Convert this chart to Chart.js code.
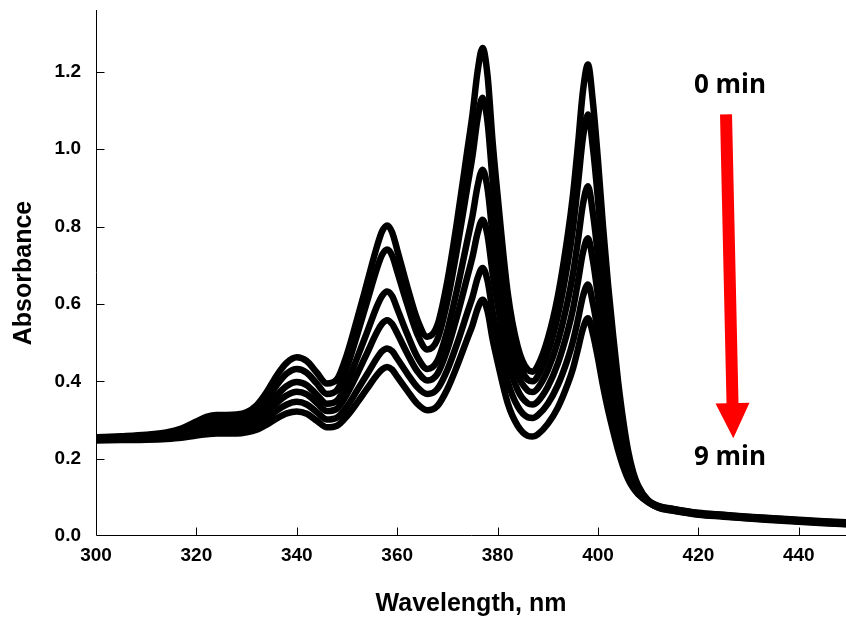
<!DOCTYPE html>
<html>
<head>
<meta charset="utf-8">
<script src="https://cdn.jsdelivr.net/npm/chart.js@4/dist/chart.umd.min.js"></script>
<style>
html,body{margin:0;padding:0;background:#fff;overflow:hidden;}
#wrap{width:846px;height:619px;position:relative;}
</style>
</head>
<body>
<div id="wrap"><canvas id="c" width="846" height="619"></canvas></div>
<script>
// ---------- data ----------
const wavelengths = [300,305,310,314,317,320,322,324,326,328,330,332,334,336,338,340,342,344,346,348,350,352,354,356,357,358,359,360,362,364,366,368,370,372,374,375,376,377,378,379,380,382,384,386,387,388,390,392,394,395,396,397,398,399,400,401,402,403,404,405,406,407,408,410,412,415,420,425,430,435,440,445,450];

const abs0min = [0.255,0.258,0.262,0.268,0.278,0.296,0.308,0.313,0.313,0.314,0.32,0.338,0.372,0.415,0.448,0.462,0.452,0.422,0.394,0.405,0.47,0.56,0.655,0.75,0.788,0.803,0.785,0.74,0.645,0.56,0.515,0.545,0.66,0.82,1.0,1.09,1.20,1.262,1.19,1.02,0.88,0.63,0.49,0.43,0.425,0.44,0.51,0.62,0.78,0.88,1.01,1.15,1.219,1.12,0.97,0.80,0.65,0.52,0.40,0.30,0.22,0.165,0.13,0.092,0.078,0.07,0.06,0.055,0.05,0.046,0.042,0.038,0.035];
const absStep1 = [0.253,0.255,0.259,0.264,0.272,0.286,0.296,0.300,0.300,0.301,0.306,0.322,0.352,0.39,0.42,0.432,0.422,0.394,0.367,0.377,0.437,0.519,0.606,0.693,0.727,0.741,0.725,0.684,0.599,0.522,0.482,0.508,0.608,0.748,0.905,0.983,1.079,1.133,1.07,0.921,0.799,0.58,0.457,0.404,0.40,0.413,0.474,0.57,0.708,0.795,0.909,1.03,1.09,1.002,0.869,0.719,0.587,0.471,0.365,0.276,0.205,0.157,0.124,0.091,0.077,0.069,0.059,0.054,0.049,0.045,0.041,0.037,0.034];
const absStep2 = [0.252,0.254,0.257,0.261,0.267,0.279,0.287,0.29,0.29,0.291,0.295,0.308,0.333,0.364,0.388,0.398,0.39,0.365,0.342,0.35,0.396,0.46,0.527,0.595,0.621,0.632,0.62,0.588,0.522,0.463,0.432,0.453,0.532,0.642,0.766,0.828,0.904,0.947,0.898,0.781,0.685,0.513,0.417,0.376,0.372,0.382,0.429,0.503,0.61,0.677,0.764,0.858,0.904,0.833,0.724,0.602,0.495,0.401,0.314,0.242,0.185,0.145,0.118,0.09,0.076,0.068,0.058,0.053,0.048,0.044,0.04,0.036,0.033];
const absStep3 = [0.250,0.252,0.254,0.257,0.263,0.273,0.279,0.282,0.282,0.283,0.286,0.297,0.318,0.344,0.364,0.373,0.366,0.344,0.323,0.329,0.367,0.418,0.473,0.528,0.549,0.558,0.548,0.524,0.472,0.426,0.402,0.419,0.483,0.572,0.672,0.722,0.783,0.818,0.777,0.68,0.6,0.457,0.377,0.343,0.34,0.348,0.386,0.446,0.532,0.586,0.657,0.733,0.77,0.711,0.62,0.518,0.428,0.35,0.278,0.218,0.17,0.137,0.114,0.089,0.075,0.067,0.057,0.052,0.047,0.043,0.039,0.035,0.032];
const absStep4 = [0.249,0.250,0.252,0.254,0.259,0.266,0.271,0.273,0.273,0.274,0.276,0.285,0.302,0.324,0.34,0.347,0.34,0.32,0.301,0.306,0.335,0.376,0.418,0.461,0.478,0.485,0.478,0.459,0.42,0.385,0.367,0.38,0.43,0.5,0.579,0.618,0.666,0.693,0.66,0.581,0.516,0.4,0.335,0.307,0.305,0.312,0.342,0.39,0.459,0.503,0.559,0.62,0.65,0.601,0.527,0.443,0.369,0.305,0.245,0.196,0.157,0.129,0.11,0.088,0.074,0.066,0.056,0.051,0.046,0.042,0.038,0.034,0.031];
const abs9min = [0.247,0.248,0.249,0.251,0.254,0.260,0.263,0.265,0.265,0.265,0.268,0.275,0.288,0.304,0.317,0.322,0.316,0.298,0.281,0.285,0.31,0.344,0.381,0.417,0.431,0.437,0.43,0.412,0.376,0.342,0.325,0.336,0.38,0.442,0.511,0.545,0.587,0.611,0.581,0.509,0.45,0.344,0.285,0.259,0.257,0.263,0.29,0.332,0.394,0.432,0.483,0.536,0.563,0.522,0.459,0.388,0.326,0.272,0.222,0.18,0.147,0.124,0.108,0.087,0.073,0.065,0.055,0.05,0.045,0.041,0.037,0.033,0.03];

const seriesNames = ['0 min','spectrum 2','spectrum 3','spectrum 4','spectrum 5','9 min'];
const seriesValues = [abs0min, absStep1, absStep2, absStep3, absStep4, abs9min];

const xTickValues = [300,320,340,360,380,400,420,440];
const yTickValues = [0,0.2,0.4,0.6,0.8,1.0,1.2];
const xRange = [300, 449.4];
const yRange = [0, 1.36];

// annotation anchor points, in data units
const arrowStart = {x: 425.5, y: 1.09};
const arrowEnd   = {x: 426.95, y: 0.253};
const topLabel    = {x: 426.3, y: 1.164, text: '0 min'};
const bottomLabel = {x: 426.3, y: 0.204, text: '9 min'};

// ---------- chart ----------
const FONT = "'Liberation Sans', Arial, Helvetica, sans-serif";

const datasets = seriesValues.map((vals, i) => ({
  label: seriesNames[i],
  data: wavelengths.map((w, k) => ({x: w, y: vals[k]})),
  borderColor: '#000',
  backgroundColor: '#000',
  borderWidth: 6.5,
  pointRadius: 0,
  fill: false,
  cubicInterpolationMode: 'monotone',
  borderCapStyle: 'round',
  borderJoinStyle: 'round'
}));

const axesPlugin = {
  id: 'axesPlugin',
  beforeDatasetsDraw(chart) {
    const {ctx, chartArea, scales: {x, y}} = chart;
    ctx.save();
    ctx.strokeStyle = '#000';
    ctx.lineWidth = 1;
    const ax = Math.round(chartArea.left) + 0.5;
    const ay = Math.round(chartArea.bottom) - 0.5;
    ctx.beginPath();
    ctx.moveTo(ax, chartArea.top);
    ctx.lineTo(ax, ay);
    ctx.lineTo(chartArea.right + 2, ay);
    ctx.stroke();
    xTickValues.forEach(v => {
      if (v === xRange[0]) return;
      const px = Math.round(x.getPixelForValue(v)) + 0.5;
      ctx.beginPath(); ctx.moveTo(px, ay); ctx.lineTo(px, ay - 8); ctx.stroke();
    });
    yTickValues.forEach(v => {
      if (v === yRange[0]) return;
      const py = Math.round(y.getPixelForValue(v)) + 0.5;
      ctx.beginPath(); ctx.moveTo(ax, py); ctx.lineTo(ax + 8, py); ctx.stroke();
    });
    ctx.restore();
  },
  afterDraw(chart) {
    const {ctx, scales: {x, y}} = chart;
    ctx.save();
    // red arrow
    const x1 = x.getPixelForValue(arrowStart.x), y1 = y.getPixelForValue(arrowStart.y);
    const x2 = x.getPixelForValue(arrowEnd.x),   y2 = y.getPixelForValue(arrowEnd.y);
    const dx = x2 - x1, dy = y2 - y1, len = Math.hypot(dx, dy);
    const ux = dx / len, uy = dy / len, nx = -uy, ny = ux;
    const headLen = 35, headHalf = 17, shaftHalf = 6;
    const bx = x2 - ux * headLen, by = y2 - uy * headLen;
    ctx.fillStyle = '#ff0000';
    ctx.beginPath();
    ctx.moveTo(x1 + nx * shaftHalf, y1 + ny * shaftHalf);
    ctx.lineTo(bx + nx * shaftHalf, by + ny * shaftHalf);
    ctx.lineTo(bx + nx * headHalf, by + ny * headHalf);
    ctx.lineTo(x2, y2);
    ctx.lineTo(bx - nx * headHalf, by - ny * headHalf);
    ctx.lineTo(bx - nx * shaftHalf, by - ny * shaftHalf);
    ctx.lineTo(x1 - nx * shaftHalf, y1 - ny * shaftHalf);
    ctx.closePath();
    ctx.fill();
    // labels
    ctx.fillStyle = '#000';
    ctx.font = "bold 26px 'Open Sans', " + FONT;
    ctx.textAlign = 'center';
    ctx.textBaseline = 'middle';
    [topLabel, bottomLabel].forEach(l => {
      ctx.fillText(l.text, x.getPixelForValue(l.x), y.getPixelForValue(l.y));
    });
    ctx.restore();
  }
};

new Chart(document.getElementById('c'), {
  type: 'line',
  data: {datasets},
  plugins: [axesPlugin],
  options: {
    responsive: false,
    animation: false,
    devicePixelRatio: 1,
    layout: {padding: {top: 10, right: 0, bottom: 0, left: 0}},
    plugins: {legend: {display: false}, tooltip: {enabled: false}, title: {display: false}},
    elements: {line: {tension: 0.4}},
    scales: {
      x: {
        type: 'linear',
        min: xRange[0], max: xRange[1],
        grid: {display: false, drawTicks: false},
        border: {display: false},
        afterBuildTicks: s => { s.ticks = xTickValues.map(v => ({value: v})); },
        afterFit: s => { s.height = 83; s.paddingLeft = 0; s.paddingRight = 0; },
        ticks: {
          color: '#000', padding: 8, maxRotation: 0, autoSkip: false,
          font: {family: FONT, weight: 'bold', size: 19},
          callback: v => String(v)
        },
        title: {
          display: true, text: 'Wavelength, nm', color: '#000',
          font: {family: FONT, weight: 'bold', size: 25},
          padding: {top: 0, bottom: 0}
        }
      },
      y: {
        type: 'linear',
        min: yRange[0], max: yRange[1],
        grid: {display: false, drawTicks: false},
        border: {display: false},
        afterBuildTicks: s => { s.ticks = yTickValues.map(v => ({value: v})); },
        afterFit: s => { s.width = 96; s.paddingTop = 0; s.paddingBottom = 0; },
        ticks: {
          color: '#000', padding: 15, autoSkip: false,
          font: {family: FONT, weight: 'bold', size: 19},
          callback: v => Number(v).toFixed(1)
        },
        title: {
          display: true, text: 'Absorbance', color: '#000',
          font: {family: FONT, weight: 'bold', size: 25},
          padding: {top: 9, bottom: 0}
        }
      }
    }
  }
});
</script>
</body>
</html>
